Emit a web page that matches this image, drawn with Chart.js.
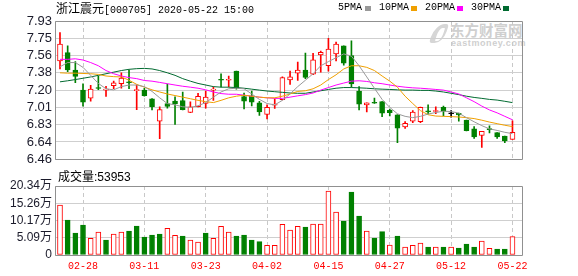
<!DOCTYPE html>
<html><head><meta charset="utf-8">
<script src="https://cdn.jsdelivr.net/npm/chart.js@4/dist/chart.umd.min.js"></script>
<style>
html,body{margin:0;padding:0;background:#fff;width:578px;height:276px;overflow:hidden;}
#wrap{position:relative;width:578px;height:276px;}
canvas{position:absolute;left:0;}
.t{position:absolute;white-space:nowrap;color:#000;line-height:14px;}
.mono{font-family:"Liberation Mono",monospace;font-size:10px;}
.cjk{font-family:"Noto Sans CJK SC";font-size:12px;}
.sq{position:absolute;width:6px;height:5px;top:6px;}
#wm1{position:absolute;left:450px;top:20px;font-family:"Noto Sans CJK SC";font-weight:bold;font-size:14.5px;color:#cfcfcf;line-height:20px;white-space:nowrap;}
#wm2{position:absolute;left:451px;top:38px;font-family:"Liberation Sans";font-weight:bold;font-size:9px;letter-spacing:0.6px;color:#cfcfcf;line-height:10px;white-space:nowrap;}
#logo1{position:absolute;left:432px;top:24px;width:14px;height:19px;background:#d6d6d6;border-radius:70% 20% 60% 20%;transform:skewX(-18deg);}
#logo2{position:absolute;left:437px;top:28px;width:6px;height:13px;background:#fff;border-radius:60% 10% 60% 10%;transform:skewX(-18deg);}
</style></head><body>
<div id="wrap">
<div id="logo1"></div><div id="logo2"></div>
<div id="wm1">东方财富网</div>
<div id="wm2">eastmoney.com</div>
<canvas id="main" width="578" height="170" style="top:0"></canvas>
<canvas id="vol" width="578" height="108" style="top:168px"></canvas>
<div class="t" style="left:56px;top:1px;"><span class="cjk">浙江震元</span><span class="mono">[000705] 2020-05-22 15:00</span></div>
<div class="t mono" style="left:338px;top:1px;">5PMA</div><div class="sq" style="left:365px;background:#999999"></div>
<div class="t mono" style="left:379px;top:1px;">10PMA</div><div class="sq" style="left:411px;background:#f0a000"></div>
<div class="t mono" style="left:425px;top:1px;">20PMA</div><div class="sq" style="left:457px;background:#ff00ff"></div>
<div class="t mono" style="left:471px;top:1px;">30PMA</div><div class="sq" style="left:503px;background:#006a30"></div>
<div class="t" id="volTitle" style="left:58px;top:170px;font-family:'Liberation Sans','Noto Sans CJK SC';font-size:12px;"></div>
</div>
<script>
const dates = ['02-25','02-26','02-27','02-28','03-02','03-03','03-04','03-05','03-06','03-09','03-10','03-11','03-12','03-13','03-16','03-17','03-18','03-19','03-20','03-23','03-24','03-25','03-26','03-27','03-30','03-31','04-01','04-02','04-03','04-07','04-08','04-09','04-10','04-13','04-14','04-15','04-16','04-17','04-20','04-21','04-22','04-23','04-24','04-27','04-28','04-29','04-30','05-06','05-07','05-08','05-11','05-12','05-13','05-14','05-15','05-18','05-19','05-20','05-21','05-22'];
const xTickLabels = ['02-28','03-11','03-23','04-02','04-15','04-27','05-12','05-22'];

const open  = [7.505,7.593,7.409,7.195,7.110,7.222,7.195,7.243,7.263,7.283,7.190,7.195,7.103,6.865,7.052,7.079,7.083,6.957,7.018,7.052,7.195,7.305,7.300,7.396,7.127,7.134,7.059,6.936,7.035,7.093,7.304,7.375,7.409,7.365,7.569,7.454,7.580,7.665,7.563,7.185,7.038,7.062,7.072,6.981,6.933,6.804,6.865,6.858,6.967,6.967,7.011,6.943,6.947,6.875,6.783,6.712,6.780,6.742,6.705,6.671];
const high  = [7.808,7.665,7.498,7.263,7.246,7.345,7.236,7.290,7.379,7.409,7.250,7.215,7.106,7.018,7.260,7.124,7.175,7.069,7.161,7.185,7.229,7.369,7.345,7.398,7.164,7.185,7.076,7.038,7.103,7.335,7.396,7.494,7.590,7.586,7.610,7.746,7.705,7.667,7.719,7.232,7.059,7.110,7.074,6.991,6.935,6.861,6.977,7.015,7.038,7.018,7.025,6.977,6.950,6.877,6.807,6.756,6.814,6.744,6.707,6.868];
const low   = [7.420,7.392,7.273,7.025,7.076,7.200,7.127,7.209,7.215,7.209,6.987,7.130,6.984,6.678,7.004,6.831,6.984,6.955,7.015,7.004,7.086,7.229,7.229,7.205,6.994,7.028,6.926,6.889,7.001,7.090,7.256,7.297,7.317,7.358,7.385,7.396,7.505,7.460,7.226,6.984,6.964,7.052,6.913,6.920,6.637,6.787,6.848,6.848,6.940,6.943,6.920,6.906,6.865,6.760,6.681,6.586,6.739,6.681,6.637,6.671];
const close = [7.685,7.409,7.341,7.066,7.205,7.212,7.200,7.273,7.324,7.273,7.195,7.137,7.018,6.987,7.021,7.049,6.986,7.018,7.130,7.120,7.200,7.300,7.305,7.215,7.076,7.066,6.964,7.011,7.040,7.328,7.335,7.409,7.331,7.518,7.597,7.631,7.685,7.481,7.260,7.045,7.059,7.055,6.950,6.955,6.790,6.841,6.960,7.011,6.964,6.970,6.967,6.943,6.930,6.763,6.698,6.756,6.775,6.698,6.654,6.746];

const ma5  = [7.443,7.488,7.488,7.437,7.352,7.266,7.209,7.198,7.232,7.249,7.249,7.232,7.181,7.113,7.052,7.038,7.018,7.011,7.028,7.062,7.120,7.175,7.209,7.215,7.209,7.154,7.096,7.052,7.038,7.086,7.154,7.232,7.300,7.369,7.454,7.498,7.539,7.580,7.556,7.454,7.335,7.215,7.096,7.011,6.943,6.916,6.902,6.916,6.940,6.957,6.970,6.967,6.950,6.902,6.858,6.817,6.783,6.766,6.746,6.732];
const ma10 = [7.379,7.375,7.375,7.372,7.369,7.362,7.345,7.338,7.335,7.300,7.256,7.226,7.198,7.175,7.154,7.137,7.120,7.103,7.086,7.072,7.062,7.086,7.113,7.130,7.141,7.130,7.120,7.113,7.113,7.130,7.154,7.181,7.188,7.209,7.249,7.307,7.358,7.420,7.454,7.454,7.437,7.403,7.345,7.290,7.226,7.130,7.052,6.977,6.933,6.919,6.916,6.913,6.909,6.902,6.892,6.875,6.855,6.838,6.821,6.807];
const ma20 = [7.522,7.522,7.528,7.515,7.488,7.454,7.403,7.369,7.345,7.328,7.317,7.297,7.290,7.277,7.263,7.249,7.236,7.226,7.215,7.198,7.175,7.158,7.151,7.151,7.141,7.130,7.120,7.113,7.107,7.107,7.120,7.134,7.147,7.164,7.195,7.222,7.249,7.270,7.290,7.294,7.287,7.273,7.263,7.249,7.236,7.226,7.219,7.215,7.209,7.202,7.195,7.175,7.154,7.113,7.072,7.025,6.984,6.953,6.916,6.879];
const ma30 = [7.283,7.294,7.307,7.321,7.335,7.352,7.369,7.386,7.403,7.416,7.423,7.426,7.420,7.403,7.379,7.352,7.317,7.290,7.266,7.249,7.232,7.226,7.226,7.222,7.215,7.205,7.195,7.185,7.178,7.171,7.164,7.161,7.161,7.175,7.188,7.202,7.215,7.222,7.222,7.219,7.215,7.209,7.205,7.202,7.198,7.195,7.195,7.192,7.192,7.185,7.175,7.161,7.147,7.130,7.117,7.107,7.096,7.089,7.076,7.062];

const volume = [147400,103200,64900,88400,49100,67800,44200,61900,67800,70700,85500,53100,59000,61900,78600,58000,56000,44200,38300,64900,49100,84500,67800,56000,59000,44200,39300,28500,28500,90400,73700,84500,82500,91400,91400,188700,126800,100200,185700,115000,70700,50100,68800,29500,56000,23600,28500,35400,23600,23600,23600,23600,20600,32400,23600,41300,19700,17700,17700,53953];
const volUp  = [1,0,0,0,1,1,0,1,1,0,0,0,0,0,1,1,0,1,1,0,1,1,1,0,0,0,0,1,1,1,1,1,0,1,1,1,1,0,0,0,1,0,0,1,0,1,1,1,0,1,0,1,0,0,0,1,1,0,0,1];

const priceTickLabels = ['6.46','6.64','6.83','7.01','7.20','7.38','7.56','7.75','7.93'];
const volTickLabels = ['0','5.09万','10.17万','15.26万','20.34万'];
const PRICE_MIN = 6.46, PRICE_MAX = 7.93, VOL_MAX = 203400;

const RED = '#ff0000', GREEN = '#008000', BLACK = '#000000';
const X_MIN = -0.652, X_MAX = 60.242;

function candleColor(i){ return close[i] > open[i] ? RED : (close[i] < open[i] ? GREEN : BLACK); }

const frame = {
  id: 'frame',
  afterDraw(c){
    const a = c.chartArea, ctx = c.ctx;
    const al = v => Math.round(v - 0.5) + 0.5;
    ctx.save();
    ctx.strokeStyle = '#909090'; ctx.lineWidth = 1; ctx.setLineDash([]);
    ctx.beginPath();
    ctx.rect(al(a.left), al(a.top), al(a.right) - al(a.left), al(a.bottom) - al(a.top));
    ctx.stroke();
    ctx.restore();
  }
};

function xAxis(showLabels){
  return {
    type: 'linear', min: X_MIN, max: X_MAX, offset: false,
    afterBuildTicks: s => { s.ticks = xTickLabels.map(l => ({ value: dates.indexOf(l) })); },
    ticks: { display: showLabels, autoSkip: false, maxRotation: 0, padding: 5, color: RED,
             font: { family: "'Liberation Mono', monospace", size: 10 }, callback: v => dates[v] },
    grid: { color: '#c8c8c8', drawTicks: false, offset: false },
    border: { display: false, dash: [4, 3] },
    afterFit: s => { s.height = showLabels ? 21 : 0; }
  };
}

function yAxis(min, max, labels, fontSize){
  return {
    min: min, max: max,
    afterBuildTicks: s => { s.ticks = labels.map((_, k) => ({ value: min + k * (max - min) / (labels.length - 1) })); },
    afterFit: s => { s.width = 55; },
    ticks: { autoSkip: false, padding: 3, color: '#1a1a2a',
             font: { family: "'Liberation Sans', 'Noto Sans CJK SC'", size: fontSize },
             callback: (v, i) => labels[i] },
    grid: { color: '#cfcfcf', drawTicks: false },
    border: { display: false }
  };
}

const idx = dates.map((d, i) => i);

new Chart(document.getElementById('main'), {
  type: 'bar',
  data: {
    datasets: [
      { type: 'line', label: '5PMA', order: 0, data: idx.map(i => ({ x: i, y: ma5[i] })), borderColor: '#999999', borderWidth: 1, pointRadius: 0, tension: 0 },
      { type: 'line', label: '10PMA', order: 0, data: idx.map(i => ({ x: i, y: ma10[i] })), borderColor: '#f0a000', borderWidth: 1, pointRadius: 0, tension: 0 },
      { type: 'line', label: '20PMA', order: 0, data: idx.map(i => ({ x: i, y: ma20[i] })), borderColor: '#ff00ff', borderWidth: 1, pointRadius: 0, tension: 0 },
      { type: 'line', label: '30PMA', order: 0, data: idx.map(i => ({ x: i, y: ma30[i] })), borderColor: '#006a30', borderWidth: 1, pointRadius: 0, tension: 0 },
      { label: 'body', order: 1, grouped: false, barThickness: 5, minBarLength: 1, borderSkipped: false, borderWidth: 1,
        data: idx.map(i => ({ x: i, y: [Math.min(open[i], close[i]), Math.max(open[i], close[i])] })),
        backgroundColor: c => { const i = c.dataIndex; return close[i] > open[i] ? '#ffffff' : candleColor(i); },
        borderColor: c => candleColor(c.dataIndex) },
      { label: 'wick', order: 2, grouped: false, barThickness: 1, borderWidth: 0,
        data: idx.map(i => ({ x: i, y: [low[i], high[i]] })),
        backgroundColor: c => candleColor(c.dataIndex) }
    ]
  },
  options: {
    responsive: false, animation: false, events: [],
    layout: { padding: { left: 0, right: 56, top: 21, bottom: 5 } },
    plugins: { legend: { display: false }, tooltip: { enabled: false } },
    scales: { x: xAxis(false), y: yAxis(PRICE_MIN, PRICE_MAX, priceTickLabels, 13) }
  },
  plugins: [frame]
});

new Chart(document.getElementById('vol'), {
  type: 'bar',
  data: {
    datasets: [{
      label: '成交量', barThickness: 5, borderWidth: 1, borderSkipped: false,
      data: idx.map(i => ({ x: i, y: volume[i] })),
      backgroundColor: c => volUp[c.dataIndex] ? '#ffffff' : GREEN,
      borderColor: c => volUp[c.dataIndex] ? RED : GREEN
    }]
  },
  options: {
    responsive: false, animation: false, events: [],
    layout: { padding: { left: 0, right: 56, top: 18, bottom: 0 } },
    plugins: { legend: { display: false }, tooltip: { enabled: false } },
    scales: { x: xAxis(true), y: yAxis(0, VOL_MAX, volTickLabels, 12) }
  },
  plugins: [frame]
});

document.getElementById('volTitle').textContent = '成交量:' + volume[volume.length - 1];
</script>
</body></html>
